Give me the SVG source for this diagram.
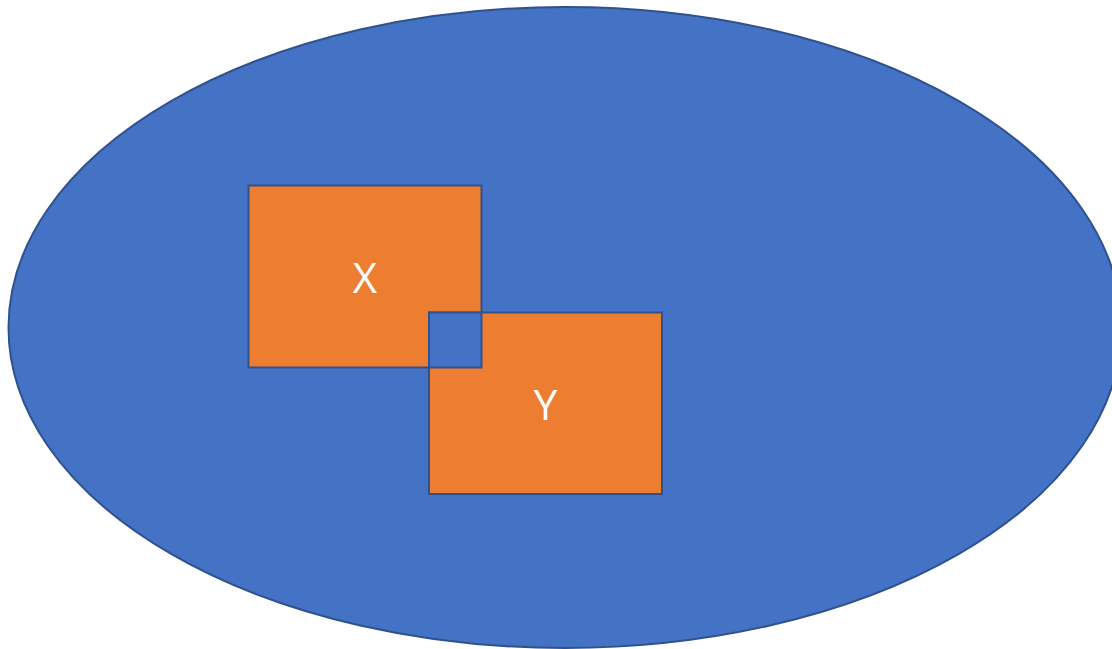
<svg xmlns="http://www.w3.org/2000/svg" width="1112" height="649" viewBox="0 0 1112 649">
<style>
.sh{stroke:#2F528F;stroke-width:2}
.blue{fill:#4472C4}
.orange{fill:#ED7D31}
.lbl{fill:#FFFFFF;font-family:"Open Sans","Liberation Sans",sans-serif;font-size:42px;text-anchor:middle}
</style>
<rect width="1112" height="649" fill="#FFFFFF"/>
<g id="universe">
<ellipse class="sh blue" cx="565" cy="327.5" rx="556.5" ry="320.5"/>
</g>
<g id="X">
<rect class="sh orange" x="248.5" y="185.5" width="233" height="182"/>
<text class="lbl" x="365" y="293">X</text>
</g>
<g id="Y">
<rect class="sh orange" x="429" y="312.5" width="233" height="181.5"/>
<text class="lbl" x="545.5" y="420">Y</text>
</g>
<g id="XY">
<rect class="sh blue" x="429" y="312.5" width="52.5" height="55"/>
</g>
<g id="connectors"></g>
</svg>
